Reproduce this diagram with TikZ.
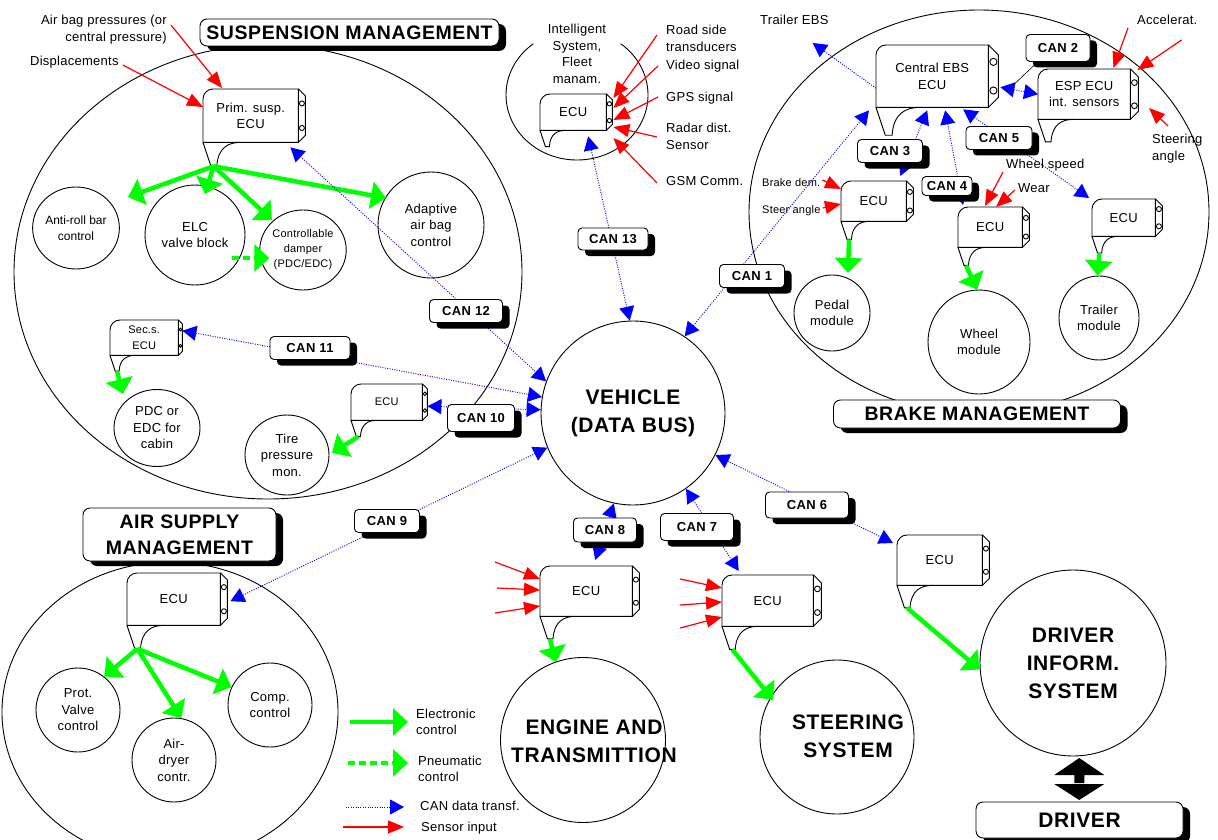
\documentclass[tikz,border=0pt]{standalone}
\usepackage{fontspec}
\setmainfont{Liberation Sans}
\usetikzlibrary{arrows.meta,calc,shadows,shapes.geometric}
\definecolor{ctrlgreen}{RGB}{0,255,0}
\definecolor{canblue}{RGB}{0,0,255}
\definecolor{sensred}{RGB}{255,0,0}
\newcommand\lblfont{\fontsize{13}{16.5}\selectfont\addfontfeature{LetterSpace=2}}
\newcommand\minifont{\fontsize{11}{15}\selectfont\addfontfeature{LetterSpace=2}}
\newcommand\canfont{\fontsize{13}{15}\selectfont\bfseries\addfontfeature{LetterSpace=3}}
\newcommand\headfont{\fontsize{19.5}{26}\selectfont\bfseries\addfontfeature{LetterSpace=3}}
\newcommand\circfont{\fontsize{21}{28}\selectfont\bfseries\addfontfeature{LetterSpace=3}}
% ECU symbol: name, left, top, width, height, connector strip, label
\newcommand\ecu[7]{%
  \node[ecubody,minimum width=#4pt,minimum height=#5pt,anchor=north west] (#1) at (#2,#3) {#7};
  \draw[eculine] (#1.south west) [rounded corners=10pt] -- (#1.north west) [sharp corners] -- (#1.north east) -- (#1.south east) -- cycle;
  \draw[eculine] (#1.north east) -- ++(#6,#6) -- ($(#1.south east)+(#6,-#6)$) -- (#1.south east);
  \draw[eculine] ($(#1.north east)!0.27!(#1.south east)+({#6/2},0)$) circle[radius={0.36*#6}];
  \draw[eculine] ($(#1.north east)!0.73!(#1.south east)+({#6/2},0)$) circle[radius={0.36*#6}];
  \draw[eculine] (#1.south west) -- ++({0.15*#5},{0.45*#5}) -- ++({0.11*#5},0)
     .. controls +({0.02*#5},{-0.35*#5}) and +({-0.22*#5},0) .. ($(#1.south west)+({0.7*#5},0)$);
  \coordinate (#1-n) at ($(#1.south west)+({0.2*#5},{0.45*#5})$);
}
\begin{document}
\begin{tikzpicture}[x=1pt,y=-1pt,
  outline/.style={draw=black,line width=0.9pt},
  part/.style={outline,ellipse,inner sep=0pt,align=center,font=\lblfont},
  hub/.style={outline,circle,inner sep=0pt,align=center,font=\circfont},
  hubtext/.style={inner sep=0pt,align=center,font=\circfont},
  ecubody/.style={inner sep=0pt,align=center,font=\lblfont},
  eculine/.style={draw=black,line width=0.9pt},
  canbox/.style={outline,rounded corners=4pt,fill=white,font=\canfont,inner sep=0pt,
     drop shadow={shadow xshift=7pt,shadow yshift=-6pt,opacity=1,fill=black}},
  headbox/.style={outline,rounded corners=7pt,fill=white,font=\headfont,inner sep=0pt,align=center,
     drop shadow={shadow xshift=7pt,shadow yshift=-5pt,opacity=1,fill=black}},
  note/.style={font=\lblfont,inner sep=0pt,align=left},
  ctrl/.style={draw=ctrlgreen,line width=4.5pt,-{Triangle[length=15pt,width=27pt]}},
  pneu/.style={ctrl,dash pattern=on 7pt off 4pt},
  sens/.style={draw=sensred,line width=1.2pt,-{Triangle[length=16pt,width=13pt]}},
  can/.style={draw=canblue,line width=0.9pt,dash pattern=on 1pt off 1.4pt,
     {Triangle[length=14pt,width=15pt]}-{Triangle[length=14pt,width=15pt]}},
  canone/.style={draw=canblue,line width=0.9pt,dash pattern=on 1pt off 1.4pt,-{Triangle[length=14pt,width=15pt]}},
]
\useasboundingbox (0,0) rectangle (1218,840);

% ---- management areas
\draw[outline] (268,272) ellipse [x radius=254, y radius=227];
\draw[outline] (979,212) ellipse [x radius=230, y radius=202];
\draw[outline] (170,712) ellipse [x radius=168, y radius=150];
\draw[outline] (577,95) ++(-52:71 and 65) arc[start angle=-52,end angle=232,x radius=71,y radius=65];

% ---- main systems
\node[hub,minimum size=184pt] (veh) at (633,413) {VEHICLE\\(DATA BUS)};
\node[hub,minimum size=165pt] (eng) at (583,740) {};
\node[hubtext] (eng-t) at (594,741) {ENGINE AND\\TRANSMITTION};
\node[hub,minimum size=154pt] (ste) at (837,737) {};
\node[hubtext] (ste-t) at (848,736) {STEERING\\SYSTEM};
\node[hub,minimum size=186pt] (dis) at (1073,663) {DRIVER\\INFORM.\\SYSTEM};

% ---- controlled parts
\node[part,minimum width=82pt,minimum height=82pt,font=\fontsize{12}{16}\selectfont] (antiroll) at (76,228) {Anti-roll bar\\control};
\node[part,minimum width=100pt,minimum height=100pt] (elc) at (195,235) {ELC\\valve block};
\node[part,minimum width=80pt,minimum height=80pt,font=\minifont] (damper) at (303,250) {Controllable\\damper\\(PDC/EDC)};
\node[part,minimum width=106pt,minimum height=106pt] (airbag) at (431,225) {Adaptive\\air bag\\control};
\node[part,minimum width=86pt,minimum height=77pt] (cabin) at (157,428) {PDC or\\EDC for\\cabin};
\node[part,minimum width=84pt,minimum height=80pt] (tpm) at (287,455) {Tire\\pressure\\mon.};
\node[part,minimum width=76pt,minimum height=76pt] (pedal) at (832,313) {Pedal\\module};
\node[part,minimum width=102pt,minimum height=104pt] (wheel) at (979,342) {Wheel\\module};
\node[part,minimum width=80pt,minimum height=84pt] (trailer) at (1099,318) {Trailer\\module};
\node[part,minimum width=84pt,minimum height=84pt] (prot) at (78,710) {Prot.\\Valve\\control};
\node[part,minimum width=84pt,minimum height=84pt] (dryer) at (174,760) {Air-\\dryer\\contr.};
\node[part,minimum width=84pt,minimum height=84pt] (comp) at (270,705) {Comp.\\control};

% ---- control units
\ecu{prim}{203}{89}{95}{53}{7}{Prim. susp.\\ECU}
\ecu{iecu}{540}{94}{66}{36}{6}{ECU}
\ecu{ebs}{876}{45}{112}{62}{10}{Central EBS\\ECU}
\ecu{esp}{1038}{69}{92}{50}{8}{ESP ECU\\int. sensors}
\ecu{pedecu}{841}{181}{65}{40}{7}{ECU}
\ecu{whecu}{958}{207}{64}{40}{7}{ECU}
\ecu{trecu}{1092}{199}{63}{37}{7}{ECU}
\ecu{sececu}{110}{320}{68}{35}{4}{\minifont Sec.s.\\\minifont ECU}
\ecu{tireecu}{351}{384}{71}{36}{5}{\minifont ECU}
\ecu{airecu}{127}{573}{93}{52}{7}{ECU}
\ecu{engecu}{540}{566}{92}{50}{7}{ECU}
\ecu{steecu}{722}{575}{91}{51}{8}{ECU}
\ecu{drvecu}{897}{535}{85}{50}{7}{ECU}

% ---- electronic and pneumatic control
\coordinate (t-antiroll) at (128,197);
\coordinate (t-elc) at (205,194);
\coordinate (t-damper) at (272,220);
\coordinate (t-airbag) at (386,198);
\draw[ctrl] (prim-n) -- (t-antiroll);
\draw[ctrl] (prim-n) -- (t-elc);
\draw[ctrl] (prim-n) -- (t-damper);
\draw[ctrl] (prim-n) -- (t-airbag);
\coordinate (p-from) at ($(elc.east)+(-13,23)$);
\coordinate (p-to) at ($(damper.west)+(10,8)$);
\draw[pneu] (p-from) -- (p-to);
\coordinate (t-cabin) at (123,394);
\coordinate (t-tpm) at (332,453);
\coordinate (t-pedal) at (848,273);
\coordinate (t-steer) at (773,700);
\draw[ctrl] (sececu-n) -- (t-cabin);
\draw[ctrl] (tireecu-n) -- (t-tpm);
\draw[ctrl] (pedecu-n) -- (t-pedal);
\draw[ctrl] (whecu-n) -- (wheel.92);
\draw[ctrl] (trecu-n) -- (trailer.92);
\draw[ctrl] (airecu-n) -- (prot.52);
\draw[ctrl] (airecu-n) -- (dryer.80);
\draw[ctrl] (airecu-n) -- (comp.155);
\draw[ctrl] (engecu-n) -- ($(eng.north)+(-27,5)$);
\draw[ctrl] (steecu-n) -- (t-steer);
\draw[ctrl] (drvecu-n) -- (dis.184);

% ---- sensor inputs
\node[note,align=right,anchor=north east] (l-airbag) at (167,15) {Air bag pressures (or\\central pressure)};
\node[note,anchor=west] (l-disp) at (30,62) {Displacements};
\draw[sens] ($(l-airbag.north east)+(4,10)$) -- ($(prim.north west)+(19,-1)$);
\draw[sens] ($(l-disp.east)+(4,3)$) -- ($(prim.north west)+(0,18)$);

\node[note,align=center] (l-intel) at (577,54) {Intelligent\\System,\\Fleet\\manam.};
\node[note,anchor=north west] (l-road) at (666,25) {Road side\\transducers};
\node[note,anchor=west] (l-video) at (666,66) {Video signal};
\node[note,anchor=west] (l-gps) at (666,98) {GPS signal};
\node[note,anchor=north west] (l-radar) at (666,123) {Radar dist.\\Sensor};
\node[note,anchor=west] (l-gsm) at (666,181) {GSM Comm.};
\draw[sens] ($(l-road.north west)+(-9,10)$) -- ($(iecu.north east)+(7,4)$);
\draw[sens] ($(l-video.west)+(-8,0)$) -- ($(iecu.north east)+(7,14)$);
\draw[sens] ($(l-gps.west)+(-8,-1)$) -- ($(iecu.north east)+(7,26)$);
\draw[sens] ($(l-radar.north west)+(-9,14)$) -- ($(iecu.north east)+(7,33)$);
\draw[sens] ($(l-gsm.west)+(-9,2)$) -- ($(iecu.north east)+(7,44)$);

\node[note,anchor=west] (l-accel) at (1137,20) {Accelerat.};
\node[note,anchor=north west] (l-steer) at (1152,134) {Steering\\angle};
\draw[sens] ($(l-accel.west)+(-9,8)$) -- ($(esp.north east)+(-17,-1)$);
\draw[sens] ($(l-accel.east)+(-16,20)$) -- ($(esp.north east)+(7,1)$);
\draw[sens] ($(l-steer.north west)+(16,-8)$) -- ($(l-steer.north west)+(-3,-26)$);

\node[note,anchor=west] (l-wspeed) at (1006,165) {Wheel speed};
\node[note,anchor=west] (l-wear) at (1018,188) {Wear};
\draw[sens] ($(l-wspeed.west)+(-3,7)$) -- ($(whecu.north west)+(27,-1)$);
\draw[sens] ($(l-wear.west)+(-3,2)$) -- ($(whecu.north west)+(38,0)$);

\node[note,font=\minifont,anchor=west] (l-bdem) at (762,183) {Brake dem.};
\node[note,font=\minifont,anchor=west] (l-sang) at (762,211) {Steer angle};
\draw[sens] ($(l-bdem.east)+(2,-3)$) -- ($(pedecu.north west)+(0,8)$);
\draw[sens] ($(l-sang.east)+(2,-3)$) -- ($(pedecu.north west)+(0,23)$);

\coordinate (e-s1) at (495,562);
\coordinate (e-s2) at (497,588);
\coordinate (e-s3) at (495,613);
\draw[sens] (e-s1) -- ($(engecu.north west)+(0,13)$);
\draw[sens] (e-s2) -- ($(engecu.north west)+(0,24)$);
\draw[sens] (e-s3) -- ($(engecu.north west)+(0,40)$);
\coordinate (s-s1) at (680,579);
\coordinate (s-s2) at (680,605);
\coordinate (s-s3) at (680,628);
\draw[sens] (s-s1) -- ($(steecu.north west)+(0,13)$);
\draw[sens] (s-s2) -- ($(steecu.north west)+(0,27)$);
\draw[sens] (s-s3) -- ($(steecu.north west)+(0,42)$);

% ---- CAN data links
\draw[can] ($(iecu.south)+(15,6)$) -- (veh.92);
\draw[can] ($(prim.south east)+(-8,5)$) -- (veh.160);
\draw[can] ($(sececu.east)+(4,-7)$) -- (veh.170);
\draw[can] ($(tireecu.east)+(5,4)$) -- (veh.178);
\draw[can] ($(airecu.east)+(10,2)$) -- (veh.202);
\draw[can] (veh.258) -- ($(engecu.north)+(9,-6)$);
\draw[can] (veh.305) -- ($(steecu.north)+(-29,-4)$);
\draw[can] (veh.333) -- ($(drvecu.north west)+(-4,8)$);
\draw[can] (veh.56) -- ($(ebs.south west)+(-7,3)$);
\draw[can] ($(ebs.east)+(12,11)$) -- (esp.west);
\draw[can] ($(ebs.south)+(-5,3)$) -- ($(pedecu.north east)+(-6,-5)$);
\draw[can] ($(ebs.south)+(13,3)$) -- ($(whecu.north west)+(5,-2)$);
\draw[can] ($(ebs.south)+(31,2)$) -- ($(trecu.north west)+(-3,-1)$);
\node[note,anchor=west] (l-tebs) at (760,20) {Trailer EBS};
\draw[canone] ($(ebs.west)+(0,12)$) -- ($(l-tebs.south east)+(-16,18)$);

% ---- CAN bus labels
\node[canbox,minimum width=70pt,minimum height=22pt] (can13) at (613,239) {CAN 13};
\node[canbox,minimum width=73pt,minimum height=23pt] (can12) at (466,311) {CAN 12};
\node[canbox,minimum width=80pt,minimum height=23pt] (can11) at (310,348) {CAN 11};
\node[canbox,minimum width=67pt,minimum height=27pt] (can10) at (481,418) {CAN 10};
\node[canbox,minimum width=65pt,minimum height=23pt] (can9) at (387,521) {CAN 9};
\node[canbox,minimum width=63pt,minimum height=24pt] (can8) at (605,530) {CAN 8};
\node[canbox,minimum width=73pt,minimum height=27pt] (can7) at (697,527) {CAN 7};
\node[canbox,minimum width=83pt,minimum height=26pt] (can6) at (807,505) {CAN 6};
\node[canbox,minimum width=65pt,minimum height=23pt] (can1) at (752,276) {CAN 1};
\node[canbox,minimum width=64pt,minimum height=27pt] (can2) at (1058,48) {CAN 2};
\node[canbox,minimum width=65pt,minimum height=23pt] (can3) at (890,151) {CAN 3};
\node[canbox,minimum width=50pt,minimum height=19pt] (can4) at (947,186) {CAN 4};
\node[canbox,minimum width=66pt,minimum height=23pt] (can5) at (999,138) {CAN 5};
\draw[black,line width=0.6pt] ($(can2.south west)+(11,1)$) -- ($(ebs.east)!0.5!(esp.west)$);

% ---- area headings
\node[headbox,minimum width=299pt,minimum height=27pt] (h-susp) at (349.5,32.5) {SUSPENSION MANAGEMENT};
\node[headbox,minimum width=287pt,minimum height=28pt] (h-brake) at (977,414) {BRAKE MANAGEMENT};
\node[headbox,minimum width=193pt,minimum height=53pt] (h-air) at (179.5,534.5) {AIR SUPPLY\\MANAGEMENT};
\node[headbox,minimum width=207pt,minimum height=36pt,font=\circfont] (h-driver) at (1079.5,820) {DRIVER};

% ---- driver interaction (two-way)
\coordinate (dx) at ($(dis.south)!0.5!(h-driver.north)+(3,0)$);
\fill ($(dx)+(0,-21)$) -- ($(dx)+(25,-4)$) -- ($(dx)+(5,-4)$) -- ($(dx)+(5,4)$)
   -- ($(dx)+(-5,4)$) -- ($(dx)+(-5,-4)$) -- ($(dx)+(-25,-4)$) -- cycle;
\fill ($(dx)+(0,21)$) -- ($(dx)+(25,5)$) -- ($(dx)+(-25,5)$) -- cycle;

% ---- legend
\coordinate (g1a) at (350,722); \coordinate (g1b) at (408,722);
\coordinate (g2a) at (348,763); \coordinate (g2b) at (408,763);
\coordinate (g3a) at (346,807); \coordinate (g3b) at (404,807);
\coordinate (g4a) at (343,827); \coordinate (g4b) at (404,827);
\draw[ctrl] (g1a) -- (g1b);
\draw[pneu] (g2a) -- (g2b);
\draw[canone] (g3a) -- (g3b);
\draw[sens] (g4a) -- (g4b);
\node[note,anchor=west] (k1) at (416,722) {Electronic\\control};
\node[note,anchor=west] (k2) at (418,769) {Pneumatic\\control};
\node[note,anchor=west] (k3) at (420,806) {CAN data transf.};
\node[note,anchor=west] (k4) at (421,828) {Sensor input};
\end{tikzpicture}
\end{document}
